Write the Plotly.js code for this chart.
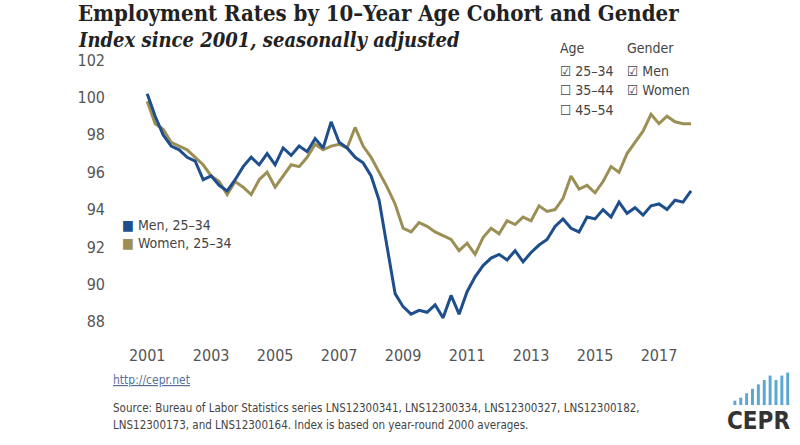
<!DOCTYPE html>
<html>
<head>
<meta charset="utf-8">
<script src="https://cdn.plot.ly/plotly-3.0.1.min.js"></script>
<style>body{margin:0;background:#fff}#chart{width:800px;height:445px}</style>
</head>
<body>
<div id="chart"></div>
<script>
//Quarterly readings of the index
var years = [];
for (var i = 0; i < 69; i++) { years.push(2001 + i * 0.25); }

var men = [100.2, 99.0, 98.0, 97.4, 97.2, 96.8, 96.6, 95.6, 95.8, 95.3, 95.0, 95.6,
  96.3, 96.8, 96.4, 97.0, 96.4, 97.3, 96.9, 97.4, 97.1, 97.8, 97.3, 98.7,
  97.6, 97.3, 96.8, 96.5, 95.8, 94.5, 92.0, 89.5, 88.8, 88.4, 88.6, 88.5,
  88.9, 88.2, 89.4, 88.4, 89.6, 90.4, 91.0, 91.4, 91.6, 91.3, 91.8, 91.2,
  91.7, 92.1, 92.4, 93.1, 93.5, 93.0, 92.8, 93.6, 93.5, 94.0, 93.6, 94.4,
  93.8, 94.1, 93.7, 94.2, 94.3, 94.0, 94.5, 94.4, 95.0];
var women = [99.8, 98.6, 98.3, 97.6, 97.4, 97.2, 96.8, 96.4, 95.8, 95.5, 94.8, 95.5,
  95.2, 94.8, 95.6, 96.0, 95.2, 95.8, 96.4, 96.3, 96.8, 97.5, 97.2, 97.4,
  97.5, 97.3, 98.4, 97.4, 96.8, 96.0, 95.2, 94.3, 93.0, 92.8, 93.3, 93.1,
  92.8, 92.6, 92.4, 91.8, 92.2, 91.6, 92.5, 93.0, 92.7, 93.4, 93.2, 93.6,
  93.4, 94.2, 93.9, 94.0, 94.6, 95.8, 95.1, 95.3, 94.9, 95.5, 96.3, 96.0,
  97.0, 97.6, 98.2, 99.1, 98.6, 99.0, 98.7, 98.6, 98.6];

var tickYears = [2001, 2003, 2005, 2007, 2009, 2011, 2013, 2015, 2017];
var tickValsY = [88, 90, 92, 94, 96, 98, 100, 102];

var menColor = '#1f4e8c';
var womenColor = '#9c8f55';
var font = 'DejaVu Sans Condensed, DejaVu Sans, sans-serif';
var serif = 'DejaVu Serif Condensed, Liberation Serif, serif';

var data = [
  { x: years, y: women, type: 'scatter', mode: 'lines', name: 'Women, 25–34',
    line: {color: womenColor, width: 3} },
  { x: years, y: men, type: 'scatter', mode: 'lines', name: 'Men, 25–34',
    line: {color: menColor, width: 3} }
];

var ann = function(x, y, text, size, color, fam) {
  return { xref: 'paper', yref: 'paper', x: x, y: y, text: text, showarrow: false,
    xanchor: 'left', yanchor: 'middle', font: {family: fam || font, size: size, color: color} };
};

var layout = {
  width: 800, height: 445,
  margin: {l: 120, r: 93, t: 49, b: 101},
  paper_bgcolor: '#ffffff', plot_bgcolor: '#ffffff',
  showlegend: false,
  xaxis: { range: [2000.15, 2018.5], tickvals: tickYears, ticktext: tickYears.map(String),
    showgrid: false, zeroline: false, showline: false, ticks: '',
    tickfont: {family: font, size: 16, color: '#555'} },
  yaxis: { range: [86.8, 102.6], tickvals: tickValsY, showgrid: false, zeroline: false,
    showline: false, ticks: '', ticklabelstandoff: 14,
    tickfont: {family: font, size: 16, color: '#555'} },
  annotations: [
    ann(-0.075, 1.122, '<b>Employment Rates by 10–Year Age Cohort and Gender</b>', 22, '#222', serif),
    ann(-0.075, 1.03, '<b><i>Index since 2001, seasonally adjusted</i></b>', 20, '#222', serif),
    ann(0.746, 1.003, 'Age', 14, '#444'),
    ann(0.86, 1.003, 'Gender', 14, '#444'),
    ann(0.746, 0.925, '☑ 25–34', 14, '#444'),
    ann(0.746, 0.861, '☐ 35–44', 14, '#444'),
    ann(0.746, 0.793, '☐ 45–54', 14, '#444'),
    ann(0.86, 0.925, '☑ Men', 14, '#444'),
    ann(0.86, 0.861, '☑ Women', 14, '#444'),
    ann(0.0, 0.403, '<span style="color:' + menColor + '">■</span> Men, 25–34', 14, '#444'),
    ann(0.0, 0.342, '<span style="color:' + womenColor + '">■</span> Women, 25–34', 14, '#444'),
    ann(-0.015, -0.122, '<u>http://cepr.net</u>', 12, '#5a6f9a'),
    ann(-0.015, -0.217, 'Source: Bureau of Labor Statistics series LNS12300341, LNS12300334, LNS12300327, LNS12300182,', 11.5, '#444'),
    ann(-0.015, -0.275, 'LNS12300173, and LNS12300164. Index is based on year-round 2000 averages.', 11.5, '#444'),
    ann(1.03, -0.262, '<b>CEPR</b>', 24, '#333')
  ],
  shapes: []
};

//small bars for the logo
var barH = [0.015, 0.025, 0.04, 0.055, 0.07, 0.085, 0.1, 0.085, 0.1, 0.11];
for (var j = 0; j < barH.length; j++) {
  var x0 = 1.045 + j * 0.01;
  layout.shapes.push({type: 'rect', xref: 'paper', yref: 'paper', x0: x0, x1: x0 + 0.005,
    y0: -0.207, y1: -0.207 + barH[j], line: {width: 0}, fillcolor: '#5aa7d6'});
}

Plotly.newPlot('chart', data, layout, {displayModeBar: false});
</script>
</body>
</html>
